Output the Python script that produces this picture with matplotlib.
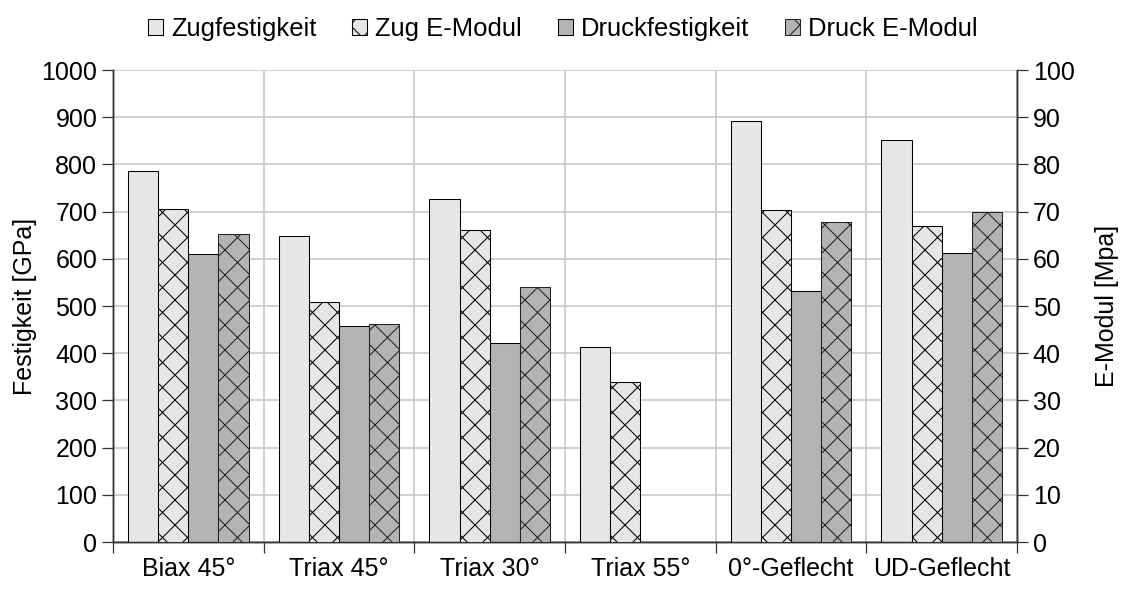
import numpy as np
import matplotlib.pyplot as plt
from matplotlib.ticker import MultipleLocator

plt.rcParams['font.family'] = ['Liberation Sans', 'DejaVu Sans']
plt.rcParams['hatch.linewidth'] = 0.5

categories = ["Biax 45°", "Triax 45°", "Triax 30°", "Triax 55°", "0°-Geflecht", "UD-Geflecht"]
zugfestigkeit = [786, 649, 727, 414, 893, 851]
zug_emodul = [70.5, 50.8, 66.1, 33.8, 70.4, 67.0]
druckfestigkeit = [611, 457, 422, 0, 531, 612]
druck_emodul = [65.3, 46.1, 54.1, 0, 67.9, 70.0]

light = "#e6e6e6"
dark = "#b3b3b3"
fs = 12

fig = plt.figure(figsize=(1121 / 150, 589 / 150), dpi=150)
ax = fig.add_axes([113 / 1121, 1 - 542 / 589, (1017 - 113) / 1121, (542 - 70) / 589])
ax2 = ax.twinx()

x = np.arange(len(categories))
w = 0.2
b1 = ax.bar(x - 1.5 * w, zugfestigkeit, w, color=light, edgecolor="black", linewidth=0.5,
            label="Zugfestigkeit", zorder=3)
b3 = ax.bar(x + 0.5 * w, druckfestigkeit, w, color=dark, edgecolor="black", linewidth=0.5,
            label="Druckfestigkeit", zorder=3)
b2 = ax2.bar(x - 0.5 * w, zug_emodul, w, color=light, edgecolor="black", linewidth=0.5,
             hatch="xx", label="Zug E-Modul", zorder=3)
b4 = ax2.bar(x + 1.5 * w, druck_emodul, w, color=dark, edgecolor="#222222", linewidth=0.5,
             hatch="xx", label="Druck E-Modul", zorder=3)
# hide zero-height bars
for bars, vals in ((b3, druckfestigkeit), (b4, druck_emodul)):
    for r, v in zip(bars, vals):
        if v == 0:
            r.set_visible(False)

ax.set_xlim(-0.5, len(categories) - 0.5)
ax.set_ylim(0, 1000)
ax2.set_ylim(0, 100)
ax.yaxis.set_major_locator(MultipleLocator(100))
ax2.yaxis.set_major_locator(MultipleLocator(10))

ax.set_xticks(x)
ax.set_xticklabels(categories, fontsize=fs)
ax.set_xticks(np.arange(-0.5, len(categories)), minor=True)
ax.tick_params(axis="x", which="major", length=0, pad=7)
ax.tick_params(axis="x", which="minor", length=5.5, width=0.6, color="#333333")
ax.tick_params(axis="y", length=5.5, width=0.6, color="#333333", labelsize=fs, pad=2)
ax2.tick_params(axis="y", length=5.5, width=0.6, color="#333333", labelsize=fs, pad=2)

ax.grid(True, which="major", axis="y", color="#c8c8c8", linewidth=0.8, zorder=0)
ax.grid(True, which="minor", axis="x", color="#c8c8c8", linewidth=0.8, zorder=0)
ax.set_axisbelow(True)

for a in (ax, ax2):
    a.spines["top"].set_visible(False)
    for s in ("left", "right", "bottom"):
        a.spines[s].set_color("#333333")
        a.spines[s].set_linewidth(0.7)

ax.set_ylabel("Festigkeit [GPa]", fontsize=fs, labelpad=2)
ax2.set_ylabel("E-Modul [Mpa]", fontsize=fs, labelpad=10)

fig.legend([b1, b2, b3, b4], ["Zugfestigkeit", "Zug E-Modul", "Druckfestigkeit", "Druck E-Modul"],
           loc="upper center", bbox_to_anchor=(0.502, 1.01), ncol=4, frameon=False,
           fontsize=12.3, handlelength=0.6, handleheight=0.6, handletextpad=0.3,
           columnspacing=1.4)

fig.savefig("out.png", dpi=150)
